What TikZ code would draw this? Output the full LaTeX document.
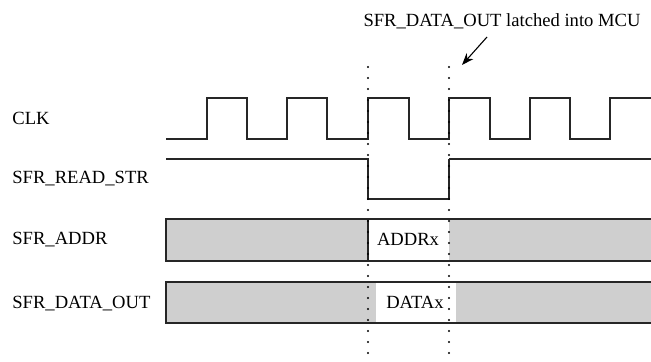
\documentclass[tikz,border=0pt]{standalone}
\usepackage{fontspec}
\setmainfont{Liberation Serif}
\usetikzlibrary{arrows.meta,calc}
\tikzset{
  sinal/.style={line width=0.65pt, black!85},
  barra/.style={line width=0.6pt, black!85},
  hachura/.style={fill=black!19, draw=none},
  marca/.style={line width=1.2pt, line cap=round, dash pattern=on 0pt off 5.5pt, black},
  rotulo/.style={anchor=base west, inner sep=0pt, font=\fontsize{9.3}{11}\selectfont},
  valor/.style={anchor=base, inner sep=0pt, font=\fontsize{9.3}{11}\selectfont},
  seta/.style={-{Stealth[length=6pt, width=4.5pt]}, line width=0.55pt},
}
\begin{document}
\begin{tikzpicture}[x=0.5pt,y=-0.5pt]
    \useasboundingbox (0,0) rectangle (651,362);

    %% ---------- nomes dos sinais ----------
    \node[rotulo] (lClk)  at (12,125) {CLK};
    \node[rotulo] (lRd)   at (12,184) {SFR\_READ\_STR};
    \node[rotulo] (lAddr) at (12,245) {SFR\_ADDR};
    \node[rotulo] (lData) at (12,308) {SFR\_DATA\_OUT};

    %% ---------- CLK ----------
    \draw[sinal] (166,139)
      \foreach \r/\f in {207/247,287/327,368/409,449/490,530/570}
        { -- (\r,139) -- (\r,98) -- (\f,98) -- (\f,139) }
      -- (610,139) -- (610,98) -- (651,98);

    %% ---------- SFR_READ_STR ----------
    \draw[sinal] (166,159) -- (368,159) -- (368,199) -- (449,199) -- (449,159);
    \draw[sinal, line width=1pt] (449,159) -- (651,159);

    %% ---------- SFR_ADDR ----------
    \fill[hachura] (166,219) rectangle (368,261);
    \fill[hachura] (449,219) rectangle (651,261);
    \draw[barra] (651,219) -- (166,219) -- (166,261) -- (651,261);
    \draw[barra] (368,219) -- (368,261);
    \node[valor] (vAddr) at (408,246) {ADDRx};

    %% ---------- SFR_DATA_OUT ----------
    \fill[hachura] (166,282) rectangle (376,323);
    \fill[hachura] (456,282) rectangle (651,323);
    \draw[barra] (651,282) -- (166,282) -- (166,323) -- (651,323);
    \node[valor] (vData) at (415,308) {DATAx};

    %% ---------- linhas de referencia (pontilhadas) ----------
    \foreach \x in {368,449}
      \draw[marca] (\x,67) -- (\x,360);

    %% ---------- nota ----------
    \node[valor] (nota) at (502,27) {SFR\_DATA\_OUT latched into MCU};
    \coordinate (cauda) at (487,37);
    \coordinate (ponta) at (462,65);
    \draw[seta] (cauda) -- (ponta);

\end{tikzpicture}
\end{document}
